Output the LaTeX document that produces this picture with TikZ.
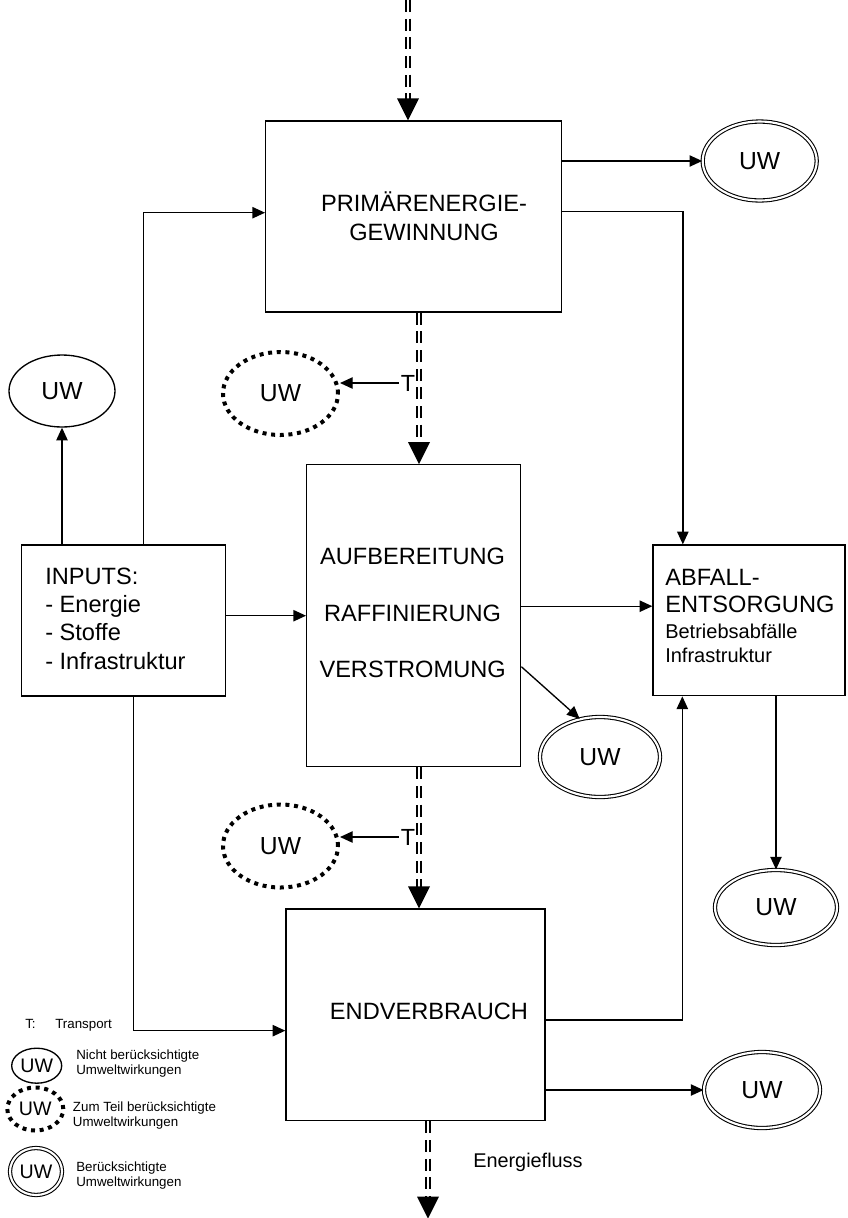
\documentclass[tikz,border=0pt]{standalone}
\usepackage{fontspec}
\setmainfont{Liberation Sans}
\usetikzlibrary{arrows.meta,shapes.geometric,calc}

\begin{document}
\begin{tikzpicture}[x=0.75pt,y=-0.75pt,
  box/.style={draw, line width=1pt, rectangle, inner sep=0},
  uw/.style={ellipse, inner sep=0, font=\fontsize{18.5pt}{22pt}\selectfont},
  uwnone/.style={draw, line width=1pt},
  uwpart/.style={draw, line width=3pt, dash pattern=on 3pt off 3.5pt},
  uwfull/.style={draw, double, line width=0.8pt, double distance=1.6pt},
  arr/.style={line width=1pt, -{Triangle[length=9.5pt,width=8.5pt]}},
  flow/.style={double, line width=1.3pt, double distance=1.3pt, dash pattern=on 9pt off 5pt},
  big/.style={inner sep=0, font=\fontsize{17.7pt}{21pt}\selectfont},
  mid/.style={inner sep=0, font=\fontsize{15pt}{18pt}\selectfont},
  small/.style={inner sep=0, font=\fontsize{10pt}{12pt}\selectfont},
]
\useasboundingbox (0,0) rectangle (847,1218);

% process boxes
\node[box, minimum width=222pt, minimum height=143.25pt] (b1) at (413.7,216.5) {};
\node[big, anchor=base] (b1a) at (424,211.5) {PRIMÄRENERGIE-};
\node[big, anchor=base] (b1b) at (424,240.5) {GEWINNUNG};

\node[box, minimum width=160.5pt, minimum height=226.5pt] (b2) at (413.7,615.7) {};
\node[big, anchor=base] (b2a) at (412.6,564.5) {AUFBEREITUNG};
\node[big, anchor=base] (b2b) at (412.6,621.5) {RAFFINIERUNG};
\node[big, anchor=base] (b2c) at (412.6,677.5) {VERSTROMUNG};

\node[box, minimum width=194.25pt, minimum height=158.8pt] (b3) at (415.5,1014.85) {};
\node[big, anchor=base] (b3a) at (429,1019) {ENDVERBRAUCH};

\node[box, minimum width=153pt, minimum height=113.25pt] (inp) at (123.7,620.5) {};
\node[big, anchor=base west] (inp1) at (45,584) {INPUTS:};
\node[big, anchor=base west] (inp2) at (45,612.7) {- Energie};
\node[big, anchor=base west] (inp3) at (45,640.7) {- Stoffe};
\node[big, anchor=base west] (inp4) at (45,669) {- Infrastruktur};

\node[box, minimum width=144pt, minimum height=113pt] (abf) at (749,620.35) {};
\node[big, anchor=base west] (abf1) at (665,585) {ABFALL-};
\node[big, anchor=base west] (abf2) at (665,612.7) {ENTSORGUNG};
\node[mid, anchor=base west] (abf3) at (665,638) {Betriebsabfälle};
\node[mid, anchor=base west] (abf4) at (665,662.7) {Infrastruktur};

% environmental impacts
\node[uw, uwfull, minimum width=85.5pt, minimum height=59.25pt] (uwTR) at (759.7,161) {UW};
\node[uw, uwnone, minimum width=79.5pt, minimum height=54pt] (uwL) at (62,391) {UW};
\node[uw, uwpart, minimum width=86.25pt, minimum height=62.25pt] (uwD1) at (280.5,393.5) {UW};
\node[uw, uwfull, minimum width=90pt, minimum height=60pt] (uwM) at (600,757) {UW};
\node[uw, uwpart, minimum width=86.25pt, minimum height=62.25pt] (uwD2) at (280.5,846) {UW};
\node[uw, uwfull, minimum width=91.5pt, minimum height=56.25pt] (uwBR) at (776,907.5) {UW};
\node[uw, uwfull, minimum width=87pt, minimum height=57pt] (uwE) at (762,1090) {UW};

% transport labels
\node[inner sep=1.5pt, font=\fontsize{17.5pt}{21pt}\selectfont] (tA) at (408,383) {T};
\node[inner sep=1.5pt, font=\fontsize{17.5pt}{21pt}\selectfont] (tB) at (408,837) {T};

% energy flow (double dashed)
\coordinate (f0) at (408,0);
\coordinate (f1) at (f0 |- b1.north);
\coordinate (f2s) at ($(b1.south)+(5.3,0)$);
\coordinate (f2e) at (f2s |- b2.north);
\coordinate (f3s) at ($(b2.south)+(5.3,0)$);
\coordinate (f3e) at (f3s |- b3.north);
\coordinate (f4s) at ($(b3.south)+(12.5,0)$);
\coordinate (f4e) at ($(f4s)+(0,97.3)$);

\draw[flow] (f0) -- ($(f1)+(0,-21)$);
\fill (f1) -- ++(-11,-22) -- ++(22,0) -- cycle;
\draw[flow] (f2s) -- ($(f2e)+(0,-21)$);
\fill (f2e) -- ++(-11,-22) -- ++(22,0) -- cycle;
\draw[flow] (f3s) -- ($(f3e)+(0,-21)$);
\fill (f3e) -- ++(-11,-22) -- ++(22,0) -- cycle;
\draw[flow] (f4s) -- ($(f4e)+(0,-21)$);
\fill (f4e) -- ++(-11,-22) -- ++(22,0) -- cycle;

% connectors
\draw[arr] (tA.west) -- (tA.west -| uwD1.east);
\draw[arr] (tB.west) -- (tB.west -| uwD2.east);
\draw[arr] (uwTR.west -| b1.east) -- (uwTR.west);
\draw[arr] ($(b1.east)+(0,-4.8)$) -| ($(abf.north west)+(30.5,0)$);
\draw[arr] ($(inp.north west)+(122.3,0)$) |- ($(b1.west)+(0,-3.8)$);
\draw[arr] (uwL.south |- inp.north) -- (uwL.south);
\draw[arr] (b2.west -| inp.east) -- (b2.west);
\draw[arr] ($(b2.east)+(0,-9.5)$) coordinate (r2) -- (r2 -| abf.west);
\draw[arr] ($(b2.east)+(0,51)$) -- (uwM.118);
\draw[arr] ($(inp.south west)+(112.3,0)$) |- ($(b3.west)+(0,15.8)$);
\draw[arr] ($(b3.east)+(0,5)$) -| ($(abf.south west)+(30,0)$);
\draw[arr] (uwBR.north |- abf.south) -- (uwBR.north);
\draw[arr] (uwE.west -| b3.east) -- (uwE.west);

\node[inner sep=0, font=\fontsize{14.9pt}{18pt}\selectfont, anchor=base west] (ef) at (473,1167) {Energiefluss};

% legend
\node[small, anchor=base west] (lgT) at (25,1028) {T:};
\node[small, anchor=base west] (lgTr) at (55,1028) {Transport};
\node[uw, uwnone, font=\fontsize{14.7pt}{17pt}\selectfont, minimum width=37.5pt, minimum height=26.25pt] (lgA) at (36.7,1065.7) {UW};
\node[small, anchor=base west] (lgA1) at (76,1059) {Nicht berücksichtigte};
\node[small, anchor=base west] (lgA2) at (76,1074.5) {Umweltwirkungen};
\node[uw, uwpart, font=\fontsize{14.7pt}{17pt}\selectfont, minimum width=42pt, minimum height=32.25pt] (lgB) at (35.3,1109) {UW};
\node[small, anchor=base west] (lgB1) at (72.7,1111) {Zum Teil berücksichtigte};
\node[small, anchor=base west] (lgB2) at (72.7,1126.5) {Umweltwirkungen};
\node[uw, uwfull, font=\fontsize{14.7pt}{17pt}\selectfont, minimum width=39pt, minimum height=35.25pt] (lgC) at (36,1171.5) {UW};
\node[small, anchor=base west] (lgC1) at (76,1171) {Berücksichtigte};
\node[small, anchor=base west] (lgC2) at (76,1186.5) {Umweltwirkungen};
\end{tikzpicture}
\end{document}
